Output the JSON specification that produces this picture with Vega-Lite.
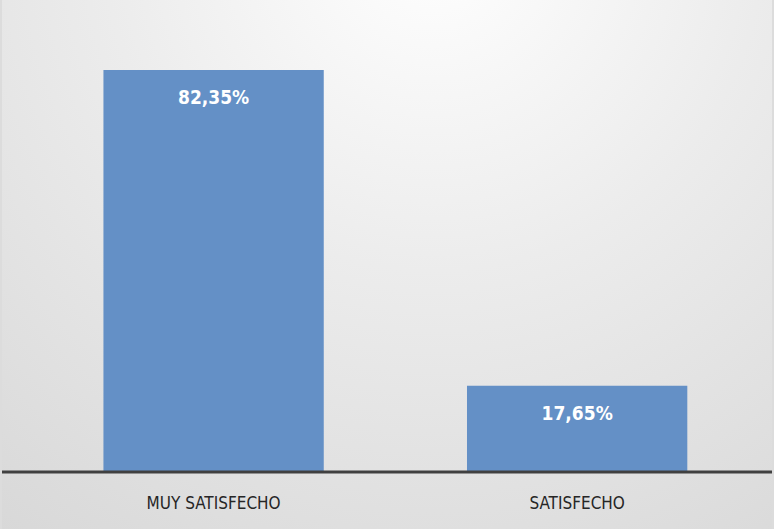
{
  "$schema": "https://vega.github.io/schema/vega-lite/v6.json",
  "autosize": {"type": "fit", "contains": "padding"},
  "width": 774,
  "height": 529,
  "padding": 0,
  "background": "#dcdcdc",
  "config": {
    "view": {"stroke": null},
    "locale": {"number": {"decimal": ",", "thousands": ".", "grouping": [3], "currency": ["", " €"]}}
  },
  "data": {"values": [
    {"categoria": "MUY SATISFECHO", "valor": 0.8235},
    {"categoria": "SATISFECHO", "valor": 0.1765}
  ]},
  "layer": [
    {
      "data": {"values": [{}]},
      "mark": {
        "type": "rect",
        "fill": {
          "gradient": "radial",
          "x1": 0.56, "y1": 0.08, "r1": 0,
          "x2": 0.56, "y2": 0.08, "r2": 0.95,
          "stops": [
            {"offset": 0, "color": "#ffffff"},
            {"offset": 0.45, "color": "#ececec"},
            {"offset": 1, "color": "#d8d8d8"}
          ]
        }
      },
      "encoding": {}
    },
    {
      "mark": {"type": "bar", "color": "#6490c6"},
      "encoding": {
        "x": {
          "field": "categoria", "type": "nominal", "sort": null,
          "scale": {"paddingInner": 0.394, "paddingOuter": 0.256, "align": 0.545},
          "axis": {
            "title": null, "orient": "bottom", "offset": -57, "domain": false, "ticks": false,
            "zindex": 2,
            "labelAngle": 0, "labelFont": "DejaVu Sans Condensed, Liberation Sans, sans-serif", "labelFontSize": 17,
            "labelColor": "#262626", "labelPadding": 23
          }
        },
        "y": {
          "field": "valor", "type": "quantitative",
          "scale": {"domain": [-0.1168, 0.967], "nice": false},
          "axis": null
        }
      }
    },
    {
      "data": {"values": [{}]},
      "mark": {"type": "rule", "color": "#404040", "strokeWidth": 3},
      "encoding": {"y": {"datum": 0, "type": "quantitative"}}
    },
    {
      "mark": {"type": "text", "dy": 28, "color": "#ffffff", "font": "DejaVu Sans Condensed, Liberation Sans, sans-serif", "fontWeight": "bold", "fontSize": 19, "baseline": "middle"},
      "encoding": {
        "x": {"field": "categoria", "type": "nominal", "sort": null},
        "y": {"field": "valor", "type": "quantitative"},
        "text": {"field": "valor", "type": "quantitative", "format": ".2%"}
      }
    }
  ]
}
